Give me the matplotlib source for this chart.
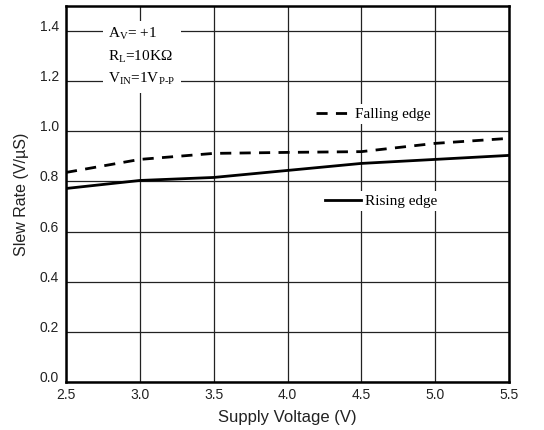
import matplotlib
matplotlib.use("Agg")
import matplotlib.pyplot as plt

supply_v = [2.5, 3.0, 3.5, 4.0, 4.5, 5.0, 5.5]
falling = [0.836, 0.888, 0.912, 0.916, 0.919, 0.952, 0.972]
rising = [0.772, 0.804, 0.816, 0.844, 0.872, 0.888, 0.904]
x_ticks = [2.5, 3.0, 3.5, 4.0, 4.5, 5.0, 5.5]
y_ticks = [0.0, 0.2, 0.4, 0.6, 0.8, 1.0, 1.2, 1.4]

plt.rcParams['mathtext.fontset'] = 'custom'
plt.rcParams['mathtext.rm'] = 'Liberation Serif'
plt.rcParams['mathtext.it'] = 'Liberation Serif'

fig = plt.figure(figsize=(5.44, 4.30), dpi=100)
ax = fig.add_axes([66/544, 48/430, 443/544, 376/430])

ax.set_xlim(2.5, 5.5)
ax.set_ylim(0, 1.5)
ax.set_xticks(x_ticks)
ax.set_xticklabels([f"{v:.1f}" for v in x_ticks])
ax.set_yticks(y_ticks)
ax.set_yticklabels([f"{v:.1f}" for v in y_ticks], va='baseline')
ax.tick_params(length=0, labelsize=10, labelcolor='#222222')
ax.tick_params(axis='x', pad=4)
ax.tick_params(axis='y', pad=5)
for lab in ax.get_xticklabels() + ax.get_yticklabels():
    lab.set_family('Liberation Sans')
ax.grid(True, color='#222222', linewidth=0.9)
ax.set_axisbelow(True)
for s in ax.spines.values():
    s.set_linewidth(1.8)
    s.set_color('black')

l1, = ax.plot(supply_v, falling, color='black', lw=2.0, ls=(0, (4, 3)), label='Falling edge')
l2, = ax.plot(supply_v, rising, color='black', lw=2.0, label='Rising edge')

ax.set_xlabel('Supply Voltage (V)', family='Liberation Sans', fontsize=12, color='#222222', labelpad=6)
ax.set_ylabel('Slew Rate (V/µS)', family='Liberation Sans', fontsize=11.5, color='#222222', labelpad=8)

common = dict(frameon=True, fancybox=False, edgecolor='none', facecolor='white', framealpha=1,
              prop={'family': 'Liberation Serif', 'size': 11}, handlelength=2.3,
              handletextpad=0.3, borderpad=0.2, borderaxespad=0, loc='center left')
leg1 = ax.legend(handles=[l1], bbox_to_anchor=((317 - 66) / 443 - 0.01, (382 - 114) / 376), **common)
ax.add_artist(leg1)
leg2 = ax.legend(handles=[l2], bbox_to_anchor=((325 - 66) / 443 - 0.006, (382 - 201) / 376), **common)

ax.text((108 - 66) / 443, (382 - 26) / 376,
        r'$\mathregular{A_V}$= +1' + '\n' + r'$\mathregular{R_L}$=10KΩ' + '\n' + r'$\mathregular{V_{IN}}$=1$\mathregular{V_{P\text{-}P}}$',
        transform=ax.transAxes, family='Liberation Serif', fontsize=11, va='top', ha='left',
        linespacing=1.55, bbox=dict(facecolor='white', edgecolor='none', pad=4))

fig.savefig('out.png', dpi=100)
